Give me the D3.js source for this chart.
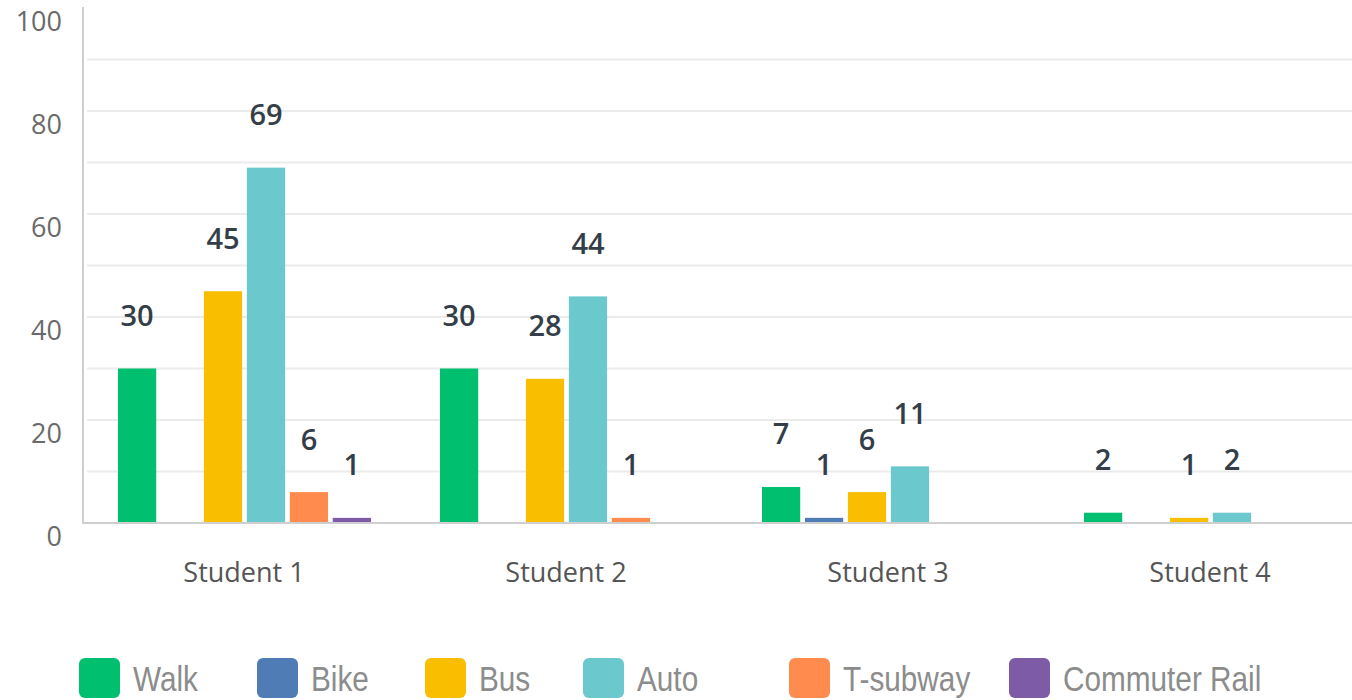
<!DOCTYPE html>
<html>
<head>
<meta charset="utf-8">
<script src="https://cdnjs.cloudflare.com/ajax/libs/d3/7.8.5/d3.min.js"></script>
<style>
  html, body { margin: 0; padding: 0; background: #fff; }
  svg { display: block; }
</style>
</head>
<body>
<svg id="chart" width="1352" height="700"></svg>
<script>
const categories = ["Student 1", "Student 2", "Student 3", "Student 4"];
const seriesNames = ["Walk", "Bike", "Bus", "Auto", "T-subway", "Commuter Rail"];
const walk = [30, 30, 7, 2];
const bike = [0, 0, 1, 0];
const bus = [45, 28, 6, 1];
const auto = [69, 44, 11, 2];
const tSubway = [6, 1, 0, 0];
const commuterRail = [1, 0, 0, 0];
const yTicks = [0, 20, 40, 60, 80, 100];
const colors = ["#00bf6f", "#507cb6", "#f9be00", "#6bc8cd", "#ff8b4f", "#7d5ba6"];

const seriesValues = [walk, bike, bus, auto, tSubway, commuterRail];

const svg = d3.select("#chart");
const W = 1352;
const x0 = 83, yBase = 523, yTop = 8;

const y = d3.scaleLinear().domain([0, 100]).range([yBase, yTop]);
const x = d3.scaleBand().domain(categories).range([x0, x0 + 1288]).paddingInner(0).paddingOuter(0);
const xi = d3.scaleBand().domain(seriesNames).range([35, 288]).paddingInner(0.11).paddingOuter(0);
const color = d3.scaleOrdinal().domain(seriesNames).range(colors);

// gridlines
const grid = d3.range(10, 100, 10);
svg.append("g").selectAll("line").data(grid).join("line")
  .attr("x1", x0 + 4).attr("x2", W)
  .attr("y1", d => y(d)).attr("y2", d => y(d))
  .attr("stroke", "#ebebeb").attr("stroke-width", 2);

// y axis labels
svg.append("g").selectAll("text").data(yTicks).join("text")
  .attr("x", 62).attr("y", d => y(d) + 12)
  .attr("text-anchor", "end").attr("dominant-baseline", "central")
  .attr("font-family", "'Open Sans', sans-serif").attr("font-size", 27)
  .attr("fill", "#6a6a6a").text(d => d);

// bars
const flat = [];
categories.forEach((c, ci) => {
  seriesNames.forEach((s, si) => {
    flat.push({ cat: c, series: s, value: seriesValues[si][ci] });
  });
});
const shown = flat.filter(d => d.value > 0);

svg.append("g").selectAll("rect").data(shown).join("rect")
  .attr("x", d => x(d.cat) + xi(d.series))
  .attr("width", xi.bandwidth())
  .attr("y", d => y(d.value))
  .attr("height", d => yBase - y(d.value))
  .attr("fill", d => color(d.series));

// value labels
svg.append("g").selectAll("text").data(shown).join("text")
  .attr("x", d => x(d.cat) + xi(d.series) + xi.bandwidth() / 2)
  .attr("y", d => y(d.value) - 54)
  .attr("text-anchor", "middle").attr("dominant-baseline", "central")
  .attr("font-family", "'Open Sans', sans-serif").attr("font-weight", 600)
  .attr("font-size", 29).attr("fill", "#333e48")
  .text(d => d.value);

// axes lines
svg.append("line").attr("x1", x0).attr("x2", x0).attr("y1", 7).attr("y2", yBase + 1)
  .attr("stroke", "#cfcfcf").attr("stroke-width", 2);
svg.append("line").attr("x1", x0).attr("x2", W).attr("y1", yBase).attr("y2", yBase)
  .attr("stroke", "#cfcfcf").attr("stroke-width", 2);

// x labels
svg.append("g").selectAll("text").data(categories).join("text")
  .attr("x", d => x(d) + x.bandwidth() / 2).attr("y", 571)
  .attr("text-anchor", "middle").attr("dominant-baseline", "central")
  .attr("font-family", "'Open Sans', sans-serif").attr("font-size", 27)
  .attr("fill", "#555").text(d => d);

// legend
const legendX = [79, 257, 425, 583, 789, 1009];
const lg = svg.append("g").selectAll("g").data(seriesNames).join("g")
  .attr("transform", (d, i) => `translate(${legendX[i]},658)`);
lg.append("rect").attr("width", 41).attr("height", 40).attr("rx", 6)
  .attr("fill", d => color(d));
lg.append("text")
  .attr("transform", "translate(54,33) scale(0.85,1)")
  .attr("font-family", "'Liberation Sans', Arial, sans-serif")
  .attr("font-size", 35).attr("fill", "#8c8c8c").text(d => d);
</script>
</body>
</html>
